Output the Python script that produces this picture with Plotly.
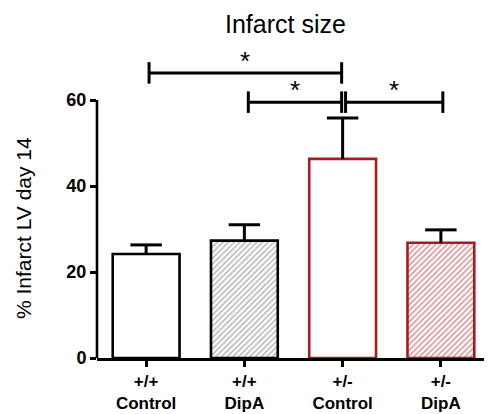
import plotly.graph_objects as go

groups = ["+/+<br>Control", "+/+<br>DipA", "+/-<br>Control", "+/-<br>DipA"]
means = [24.2, 27.3, 46.3, 26.8]
sem = [2.1, 3.7, 9.5, 3.0]
y_ticks = [0, 20, 40, 60]

RED = "#a51c24"
x = list(range(len(groups)))

# page body has an 8px margin, so the figure is sized to fit the window
W, H = 484, 406
L, R, T, B = 89, 2, 49, 56
pw, ph = W - L - R, H - T - B
CAP = 0.16  # half cap width in category units

fig = go.Figure()
fig.add_trace(go.Bar(
    x=x, y=means, width=0.68,
    marker=dict(
        color="white",
        line=dict(color=["black", "black", RED, RED], width=2.6),
        pattern=dict(shape=["", "/", "", "/"],
                     fgcolor=["black", "#7a7a7a", RED, "#b9363e"],
                     bgcolor="white", size=4, solidity=0.45),
    ),
    showlegend=False,
))

# upward error bars (stem + top cap), built from the data
ex, ey = [], []
for xi, m, s in zip(x, means, sem):
    ex += [xi, xi, None, xi - CAP, xi + CAP, None]
    ey += [m, m + s, None, m + s, m + s, None]
fig.add_trace(go.Scatter(x=ex, y=ey, mode="lines", line=dict(color="black", width=3),
                         hoverinfo="skip", showlegend=False))

# significance brackets: (start x, end x, height)
brackets = [(0.03, 1.99, 66.3), (1.04, 1.99, 59.5), (2.03, 3.02, 59.5)]
for xa, xb, yv in brackets:
    fig.add_shape(type="line", x0=xa, x1=xb, y0=yv, y1=yv, xref="x", yref="y",
                  line=dict(color="black", width=3))
    for xe in (xa, xb):
        fig.add_shape(type="line", x0=xe, x1=xe, y0=yv - 2.5, y1=yv + 2.5, xref="x", yref="y",
                      line=dict(color="black", width=3))
    fig.add_annotation(x=(xa + xb) / 2, y=yv, xref="x", yref="y", text="*", showarrow=False,
                       yanchor="bottom", yshift=-5, font=dict(size=26, color="black"))

# y axis line (only up to 60)
fig.add_shape(type="line", xref="paper", yref="y", x0=0, x1=0, y0=0, y1=60,
              line=dict(color="black", width=2.6))

fig.add_annotation(text="Infarct size", xref="paper", yref="paper",
                   x=(285 - 8 - L) / pw, y=1 + T / ph, showarrow=False,
                   font=dict(size=25, color="black"), xanchor="center", yanchor="top")
fig.add_annotation(text="% Infarct LV day 14", xref="paper", yref="paper",
                   x=(23 - 8 - L) / pw, y=(H - B - (228 - 8)) / ph, showarrow=False, textangle=-90,
                   font=dict(size=21, color="black"), xanchor="center", yanchor="middle")

fig.update_layout(
    width=W, height=H,
    margin=dict(l=L, r=R, t=T, b=B),
    paper_bgcolor="white", plot_bgcolor="white",
    font=dict(family="Arial, Liberation Sans, sans-serif", color="black"),
)

fig.update_xaxes(range=[-0.5, 3.5], tickvals=x, ticktext=groups, showline=True,
                 linecolor="black", linewidth=2.6, ticks="outside", ticklen=6, tickwidth=2.6,
                 tickcolor="black", showgrid=False, zeroline=False, automargin=False,
                 tickfont=dict(size=17, weight="bold"))
fig.update_yaxes(range=[0, 70], tickvals=y_ticks, showline=False, ticks="outside", ticklen=6,
                 tickwidth=2.6, tickcolor="black", showgrid=False, zeroline=False, automargin=False,
                 tickfont=dict(size=18, weight="bold"))

fig.write_html("out.html")
